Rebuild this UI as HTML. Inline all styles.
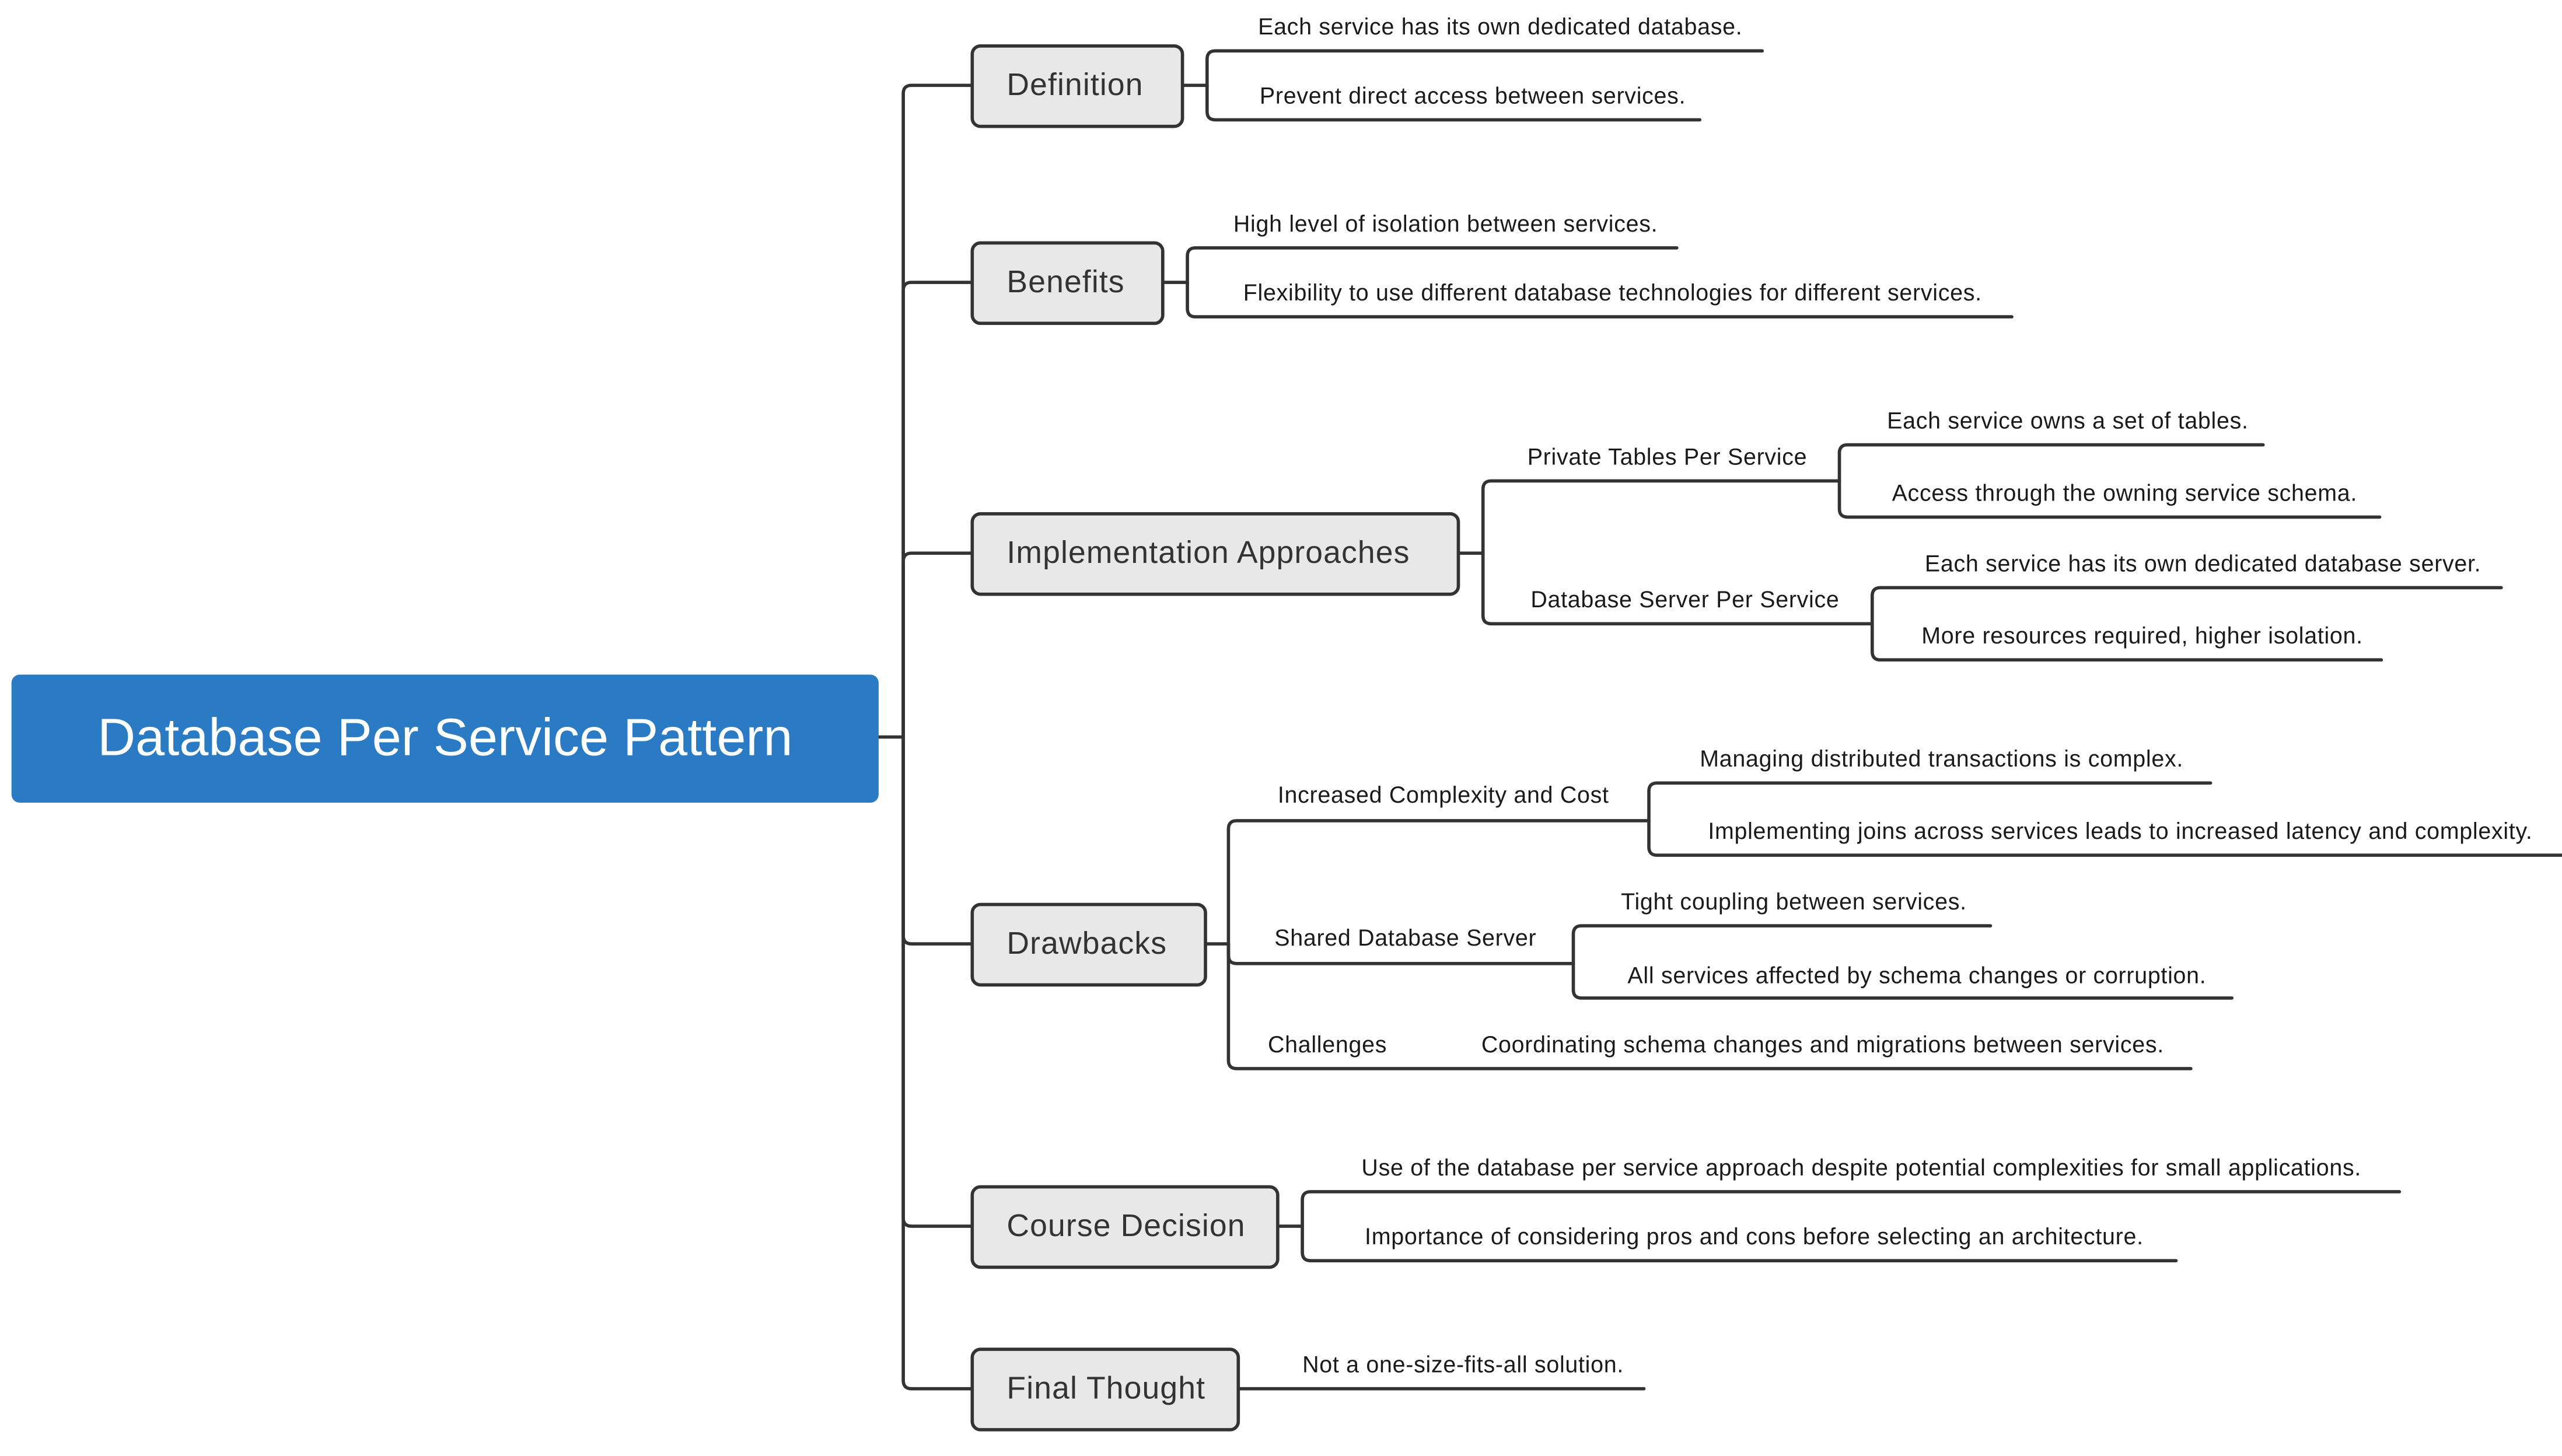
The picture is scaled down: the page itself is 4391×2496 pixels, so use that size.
<!DOCTYPE html>
<html><head><meta charset="utf-8"><style>
html,body{margin:0;padding:0;background:#fff;}
svg{display:block;}
text{font-family:"Liberation Sans",sans-serif;fill:#1a1a1a;}
.s{font-size:14px;letter-spacing:0.25px;}
.m{font-size:19px;fill:#333;letter-spacing:0.4px;}
</style></head><body>
<svg width="4391" height="2496" viewBox="0 0 1560 887" preserveAspectRatio="none" xmlns="http://www.w3.org/2000/svg">
<g fill="none" stroke="#333" stroke-width="2" stroke-linecap="round">
<path d="M535 449 H550 V57 Q550 52 555 52 H592"/>
<path d="M550 449 V177 Q550 172 555 172 H592"/>
<path d="M550 449 V342 Q550 337 555 337 H592"/>
<path d="M550 449 V570 Q550 575 555 575 H592"/>
<path d="M550 449 V742 Q550 747 555 747 H592"/>
<path d="M550 449 V841 Q550 846 555 846 H592"/>
<path d="M720 52 H735 V36 Q735 31 740 31 H1073"/>
<path d="M735 52 V68 Q735 73 740 73 H1035"/>
<path d="M708 172 H723 V156 Q723 151 728 151 H1021"/>
<path d="M723 172 V188 Q723 193 728 193 H1225"/>
<path d="M888 337 H903 V298 Q903 293 908 293 H1120"/>
<path d="M903 337 V375 Q903 380 908 380 H1140"/>
<path d="M1120 293 V276 Q1120 271 1125 271 H1378"/>
<path d="M1120 293 V310 Q1120 315 1125 315 H1449"/>
<path d="M1140 380 V363 Q1140 358 1145 358 H1523"/>
<path d="M1140 380 V397 Q1140 402 1145 402 H1450"/>
<path d="M734 575 H748 V505 Q748 500 753 500 H1004"/>
<path d="M748 575 V582 Q748 587 753 587 H958"/>
<path d="M748 575 V646 Q748 651 753 651 H1334"/>
<path d="M1004 500 V482 Q1004 477 1009 477 H1346"/>
<path d="M1004 500 V516 Q1004 521 1009 521 H1560"/>
<path d="M958 587 V569 Q958 564 963 564 H1212"/>
<path d="M958 587 V603 Q958 608 963 608 H1359"/>
<path d="M778 747 H793 V731 Q793 726 798 726 H1461"/>
<path d="M793 747 V763 Q793 768 798 768 H1325"/>
<path d="M754 846 H1001"/>
</g>
<rect x="7" y="411" width="528" height="78" rx="5" fill="#2b7bc4"/>
<text x="271" y="460" text-anchor="middle" style="font-size:32px;fill:#fff">Database Per Service Pattern</text>
<g fill="#e8e8e8" stroke="#333" stroke-width="2">
<rect x="592" y="28" width="128" height="49" rx="5"/>
<rect x="592" y="148" width="116" height="49" rx="5"/>
<rect x="592" y="313" width="296" height="49" rx="5"/>
<rect x="592" y="551" width="142" height="49" rx="5"/>
<rect x="592" y="723" width="186" height="49" rx="5"/>
<rect x="592" y="822" width="162" height="49" rx="5"/>
</g>
<text class="m" x="613" y="58">Definition</text>
<text class="m" x="613" y="178">Benefits</text>
<text class="m" x="613" y="343">Implementation Approaches</text>
<text class="m" x="613" y="581">Drawbacks</text>
<text class="m" x="613" y="753">Course Decision</text>
<text class="m" x="613" y="852">Final Thought</text>
<text class="s" x="766" y="21">Each service has its own dedicated database.</text>
<text class="s" x="767" y="63">Prevent direct access between services.</text>
<text class="s" x="751" y="141">High level of isolation between services.</text>
<text class="s" x="757" y="183">Flexibility to use different database technologies for different services.</text>
<text class="s" x="930" y="283">Private Tables Per Service</text>
<text class="s" x="1149" y="261">Each service owns a set of tables.</text>
<text class="s" x="1152" y="305">Access through the owning service schema.</text>
<text class="s" x="932" y="370">Database Server Per Service</text>
<text class="s" x="1172" y="348">Each service has its own dedicated database server.</text>
<text class="s" x="1170" y="392">More resources required, higher isolation.</text>
<text class="s" x="778" y="489">Increased Complexity and Cost</text>
<text class="s" x="1035" y="467">Managing distributed transactions is complex.</text>
<text class="s" x="1040" y="511">Implementing joins across services leads to increased latency and complexity.</text>
<text class="s" x="776" y="576">Shared Database Server</text>
<text class="s" x="987" y="554">Tight coupling between services.</text>
<text class="s" x="991" y="599">All services affected by schema changes or corruption.</text>
<text class="s" x="772" y="641">Challenges</text>
<text class="s" x="902" y="641">Coordinating schema changes and migrations between services.</text>
<text class="s" x="829" y="716">Use of the database per service approach despite potential complexities for small applications.</text>
<text class="s" x="831" y="758">Importance of considering pros and cons before selecting an architecture.</text>
<text class="s" x="793" y="836">Not a one-size-fits-all solution.</text>
</svg>
</body></html>
